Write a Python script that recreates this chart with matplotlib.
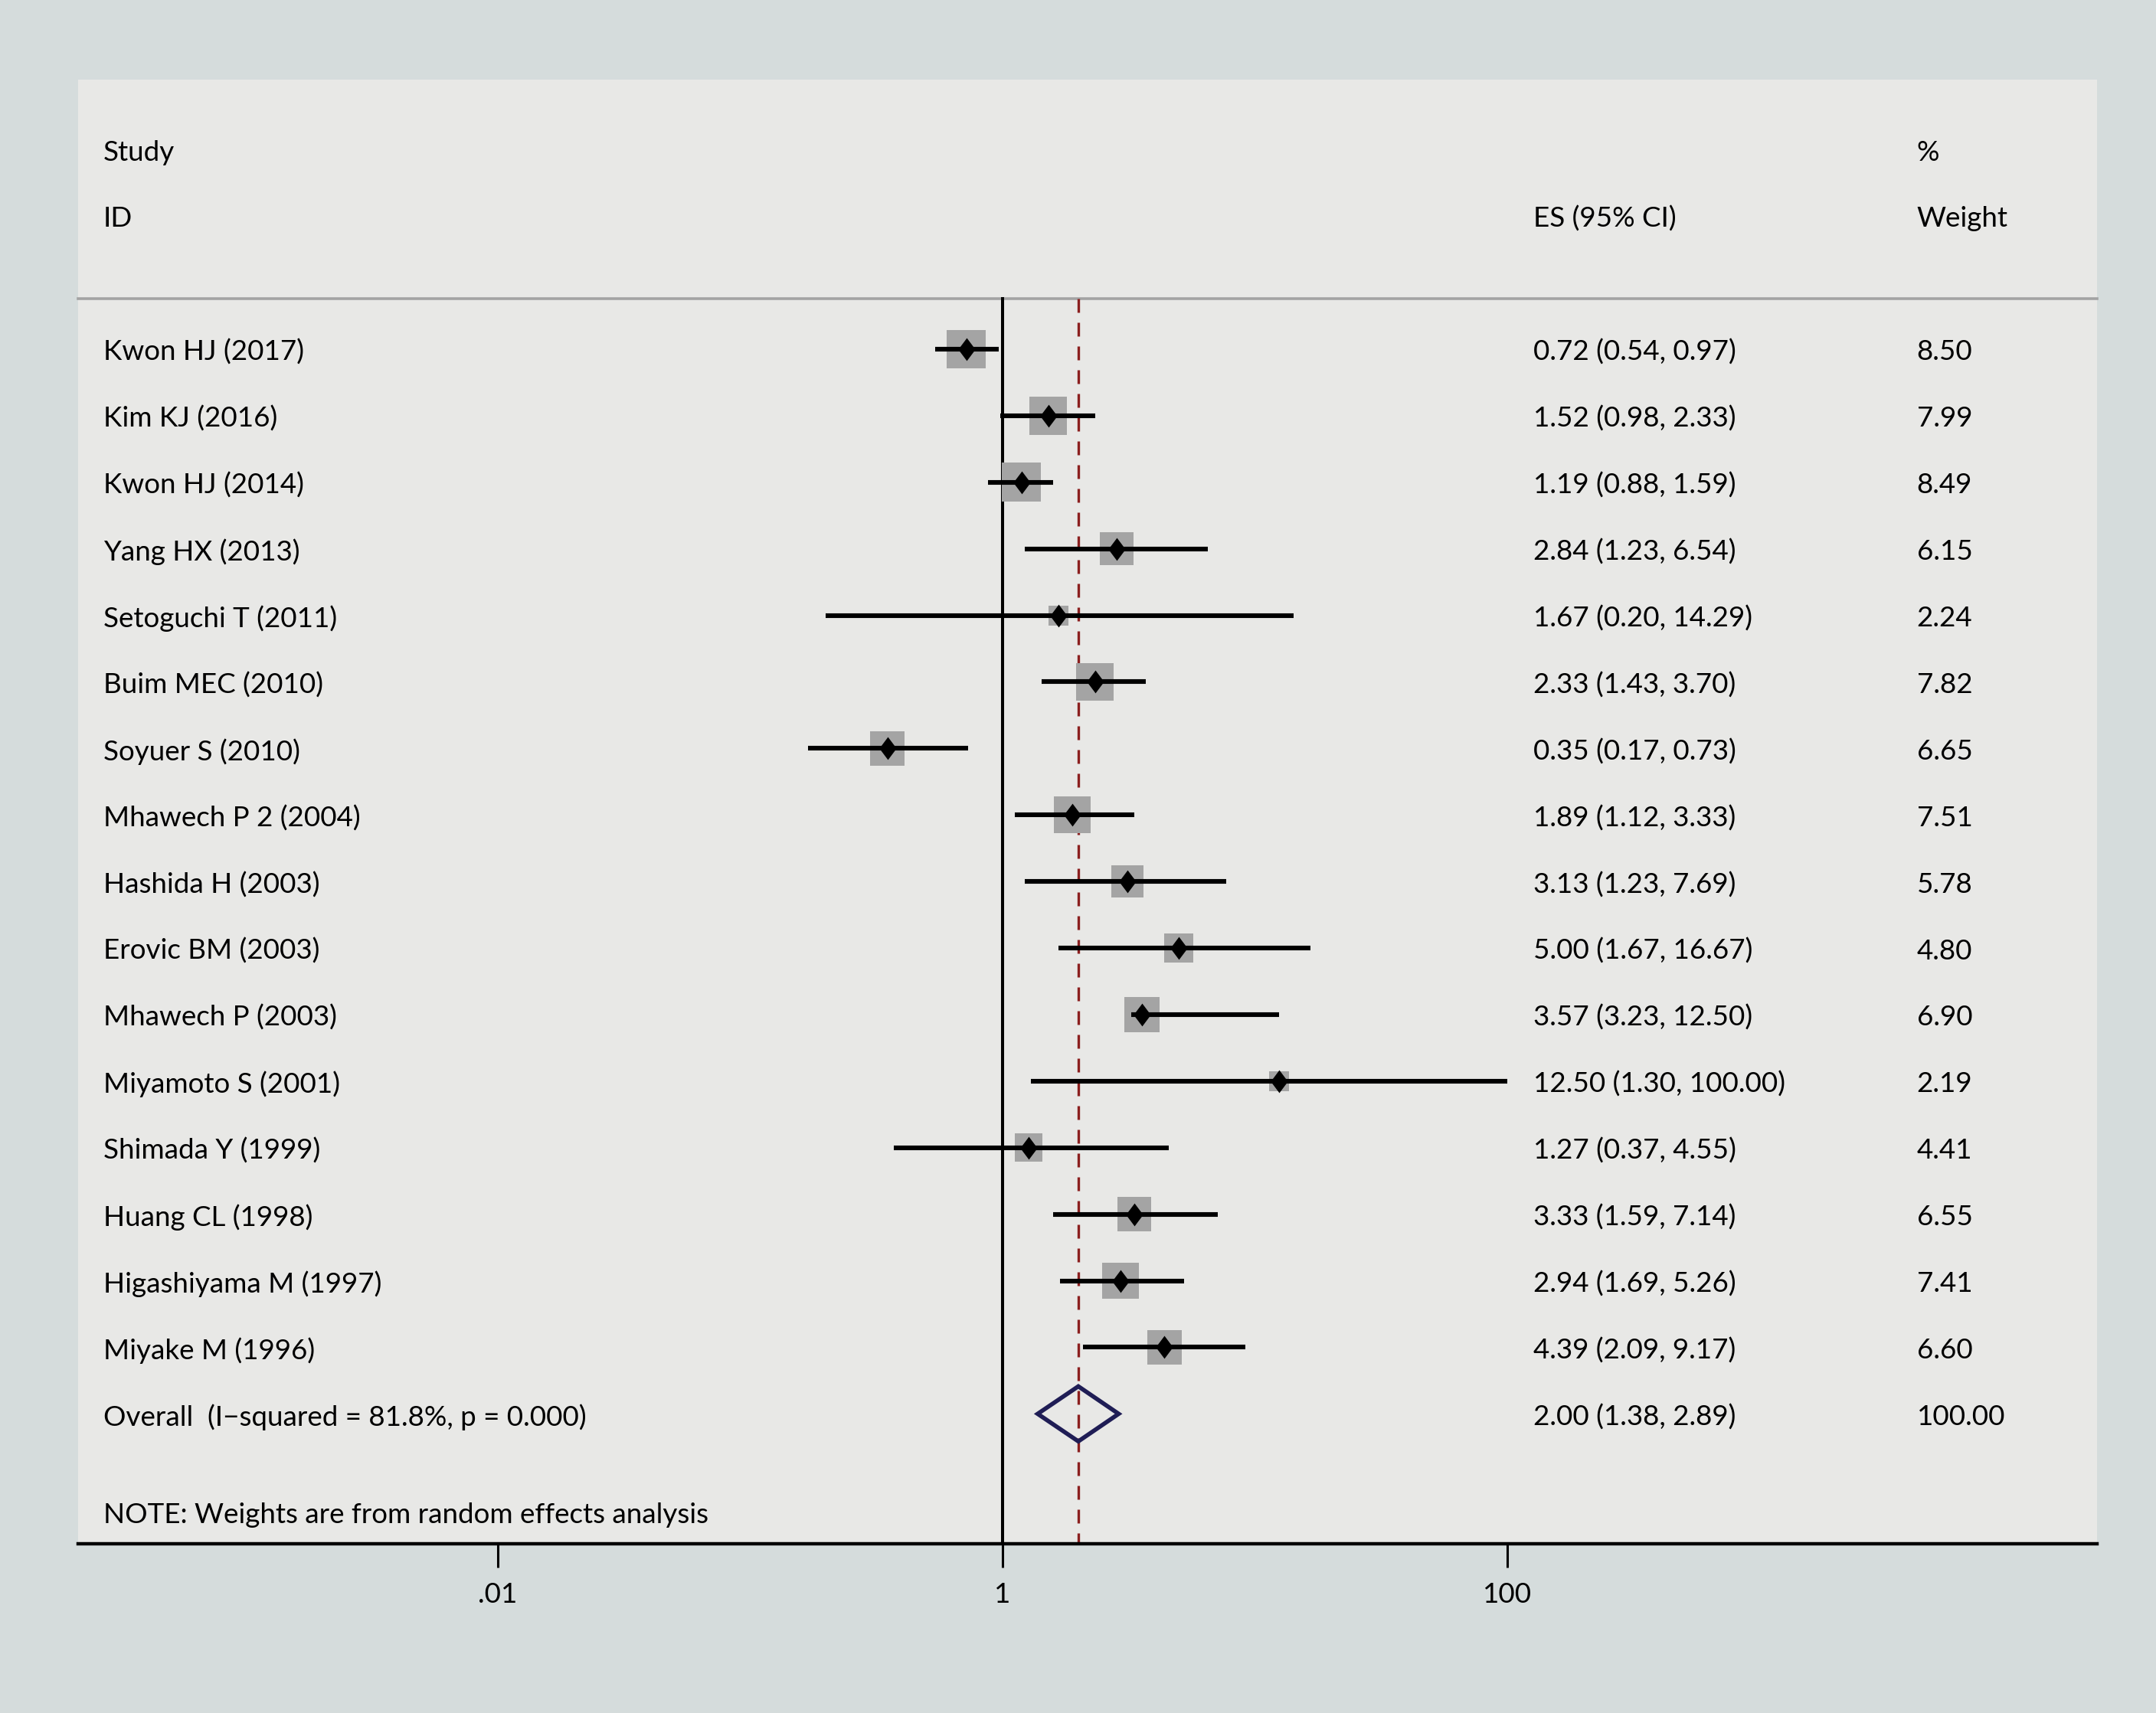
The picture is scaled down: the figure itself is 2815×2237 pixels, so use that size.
import matplotlib
matplotlib.use("Agg")
import matplotlib.pyplot as plt
from matplotlib.patches import Polygon
import matplotlib.transforms as mtransforms
import numpy as np

plt.rcParams['font.family'] = ['Lato', 'DejaVu Sans']

studies = ["Kwon HJ (2017)", "Kim KJ (2016)", "Kwon HJ (2014)", "Yang HX (2013)",
           "Setoguchi T (2011)", "Buim MEC (2010)", "Soyuer S (2010)", "Mhawech P 2 (2004)",
           "Hashida H (2003)", "Erovic BM (2003)", "Mhawech P (2003)", "Miyamoto S (2001)",
           "Shimada Y (1999)", "Huang CL (1998)", "Higashiyama M (1997)", "Miyake M (1996)"]
es = [0.72, 1.52, 1.19, 2.84, 1.67, 2.33, 0.35, 1.89, 3.13, 5.00, 3.57, 12.50, 1.27, 3.33, 2.94, 4.39]
lo = [0.54, 0.98, 0.88, 1.23, 0.20, 1.43, 0.17, 1.12, 1.23, 1.67, 3.23, 1.30, 0.37, 1.59, 1.69, 2.09]
hi = [0.97, 2.33, 1.59, 6.54, 14.29, 3.70, 0.73, 3.33, 7.69, 16.67, 12.50, 100.00, 4.55, 7.14, 5.26, 9.17]
weights = [8.50, 7.99, 8.49, 6.15, 2.24, 7.82, 6.65, 7.51, 5.78, 4.80, 6.90, 2.19, 4.41, 6.55, 7.41, 6.60]
overall_es, overall_lo, overall_hi = 2.00, 1.38, 2.89
overall_label = "Overall  (I\u2212squared = 81.8%, p = 0.000)"
overall_weight = "100.00"
tick_vals = [0.01, 1, 100]
tick_labels = [".01", "1", "100"]

W, H = 2815, 2237
fig = plt.figure(figsize=(W/100, H/100), dpi=100)
fig.patch.set_facecolor('#d5dcdc')

# display-coords reference (1568 x 1246)
left, right = 57/1568, 1525/1568
top, bottom = 1 - 58/1246, 1 - 1123/1246
ax = fig.add_axes([left, bottom, right-left, top-bottom])
ax.set_facecolor('#e8e8e6')
ax.set_xscale('log')
lx0 = (57 - 729) / 183.5
lx1 = (1525 - 729) / 183.5
ax.set_xlim(10**lx0, 10**lx1)
rowpx = 48.4
def rowy(py):
    return (py - 254) / rowpx
ax.set_ylim(rowy(1123), rowy(58))

for s in ['top', 'left', 'right']:
    ax.spines[s].set_visible(False)
ax.spines['bottom'].set_linewidth(3.2)
ax.spines['bottom'].set_color('black')
ax.set_yticks([])
ax.set_xticks(tick_vals)
ax.set_xticklabels(tick_labels)
ax.minorticks_off()
ax.tick_params(axis='x', length=22, width=2.2, labelsize=26.5, pad=14, color='black')

fs = 26.5
dy = 2.2 / rowpx  # small downward text offset
trans = mtransforms.blended_transform_factory(ax.transAxes, ax.transData)
xs_name = (75 - 57) / 1468
xs_es = (1115 - 57) / 1468
xs_w = (1394 - 57) / 1468

sep_y = rowy(217)
ax.plot([0, 1], [sep_y, sep_y], transform=trans, color='#a3a3a3', lw=2.6, clip_on=False)

# reference lines
ax.plot([1, 1], [sep_y, rowy(1123)], color='black', lw=2.9, zorder=2)
ax.plot([overall_es, overall_es], [sep_y, rowy(1123)], color='#8b1f1f', lw=2.4,
        dashes=(5.4, 3.9), zorder=2)

n = len(studies)
ys = np.arange(n)
ax.scatter(es, ys, s=np.array(weights) * 158, marker='s', color='#a4a4a4', zorder=3, linewidths=0)
for i in range(n):
    ax.plot([lo[i], hi[i]], [i, i], color='black', lw=4.4, solid_capstyle='butt', zorder=4)
dmark = [(0, 1), (0.75, 0), (0, -1), (-0.75, 0), (0, 1)]
ax.plot(es, ys, linestyle='none', marker=dmark, ms=21.5, color='black', mew=0, zorder=5)

oy = n
h = 20 / rowpx
diamond = Polygon([(overall_lo, oy), (overall_es, oy - h), (overall_hi, oy), (overall_es, oy + h)],
                  closed=True, fill=False, edgecolor='#1f1d55', lw=4.0, zorder=6)
ax.add_patch(diamond)

def txt(x, y, s):
    ax.text(x, y + dy, s, transform=trans, fontsize=fs, va='center', ha='left')

txt(xs_name, rowy(109), "Study")
txt(xs_name, rowy(157), "ID")
txt(xs_es, rowy(157), "ES (95% CI)")
txt(xs_w, rowy(109), "%")
txt(xs_w, rowy(157), "Weight")

for i in range(n):
    txt(xs_name, i, studies[i])
    txt(xs_es, i, f"{es[i]:.2f} ({lo[i]:.2f}, {hi[i]:.2f})")
    txt(xs_w, i, f"{weights[i]:.2f}")
txt(xs_name, oy, overall_label)
txt(xs_es, oy, f"{overall_es:.2f} ({overall_lo:.2f}, {overall_hi:.2f})")
txt(xs_w, oy, overall_weight)
txt(xs_name, rowy(1100), "NOTE: Weights are from random effects analysis")

fig.savefig("out.png", dpi=100, facecolor=fig.get_facecolor())
